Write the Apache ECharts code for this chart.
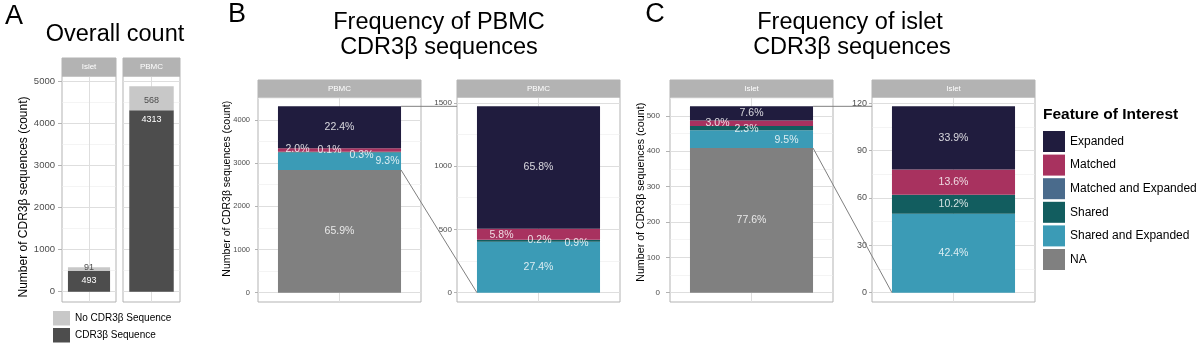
<!DOCTYPE html>
<html><head><meta charset="utf-8">
<script src="https://cdn.jsdelivr.net/npm/echarts@6/dist/echarts.min.js"></script>
<style>html,body{margin:0;padding:0;background:#fff}#c{width:1200px;height:343px}</style>
</head><body><div id="c"></div>
<script>
// ---------------- DATA ----------------
const sites = ['Islet', 'PBMC'];
const cdr3Counts = [493, 4313];
const noCdr3Counts = [91, 568];
const featureNames = ['Expanded', 'Matched', 'Matched and Expanded', 'Shared', 'Shared and Expanded', 'NA'];
const pbmcCounts = [968, 85, 3, 13, 403, 2841];
const isletCounts = [40, 16, 0, 12, 50, 409];
const ticksA = [0, 1000, 2000, 3000, 4000, 5000];
const ticksB1 = [0, 1000, 2000, 3000, 4000];
const ticksB2 = [0, 500, 1000, 1500];
const ticksC1 = [0, 100, 200, 300, 400, 500];
const ticksC2 = [0, 30, 60, 90, 120];
const yTitle = 'Number of CDR3β sequences (count)';

// ---------------- STYLE / LAYOUT ----------------
const FONT = 'Liberation Sans';
const featureColors = {
  'Expanded': '#201c3e', 'Matched': '#a8325f', 'Matched and Expanded': '#4a6b8c',
  'Shared': '#125d5f', 'Shared and Expanded': '#3b9bb6', 'NA': '#808080'
};
const countColors = { 'CDR3β Sequence': '#4d4d4d', 'No CDR3β Sequence': '#c8c8c8' };
const panels = [
  { left: 62,  top: 76, width: 54,  height: 226, strip: 'Islet', stripH: 18, bar: 0.78 },
  { left: 123, top: 76, width: 57,  height: 226, strip: 'PBMC',  stripH: 18, bar: 0.78 },
  { left: 258, top: 97, width: 163, height: 205, strip: 'PBMC',  stripH: 17, bar: 0.755 },
  { left: 457, top: 97, width: 163, height: 205, strip: 'PBMC',  stripH: 17, bar: 0.755 },
  { left: 670, top: 97, width: 163, height: 205, strip: 'Islet', stripH: 17, bar: 0.755 },
  { left: 872, top: 97, width: 163, height: 205, strip: 'Islet', stripH: 17, bar: 0.755 }
];
const labelOffsets = {
  2: { 'Matched': [-42, -1], 'Matched and Expanded': [-10, -2], 'Shared': [22, 3], 'Shared and Expanded': [48, 0] },
  3: { 'Matched': [-37, 1], 'Matched and Expanded': [1, 0], 'Shared': [38, 2] },
  4: { 'Shared and Expanded': [35, 1], 'Shared': [-5, 1], 'Matched': [-34, 0] }
};
const axisStyle = [
  { fs: 9.5, margin: 7, tick: 4 },
  { show: false },
  { fs: 7.5, margin: 8, tick: 3 },
  { fs: 8, margin: 5, tick: 3 },
  { fs: 8, margin: 10, tick: 4 },
  { fs: 9, margin: 5, tick: 3 }
];
const yTitlePos = [
  { x: 23.5, y: 197, fs: 12 },
  { x: 227.3, y: 188.7, fs: 10.5 },
  { x: 641.5, y: 192.3, fs: 10.7 }
];

const sum = a => a.reduce((s, v) => s + v, 0);
const totalA = Math.max(...cdr3Counts.map((v, i) => v + noCdr3Counts[i]));
const pbmcNonNA = pbmcCounts.slice(0, 5);
const isletNonNA = isletCounts.slice(0, 5);
const ranges = [
  [totalA, ticksA], [totalA, ticksA],
  [sum(pbmcCounts), ticksB1], [sum(pbmcNonNA), ticksB2],
  [sum(isletCounts), ticksC1], [sum(isletNonNA), ticksC2]
];

const grids = panels.map(p => ({
  left: p.left, top: p.top, width: p.width, height: p.height,
  show: true, borderColor: '#b3b3b3', borderWidth: 1, backgroundColor: '#fff'
}));
const xAxes = panels.map((p, i) => ({
  type: 'category', gridIndex: i, data: [p.strip],
  axisLine: { show: false },
  axisTick: { show: true, alignWithLabel: true, length: 3, lineStyle: { color: '#b3b3b3' } },
  axisLabel: { show: false }, splitLine: { show: false }
}));
const yAxes = panels.map((p, i) => {
  const [mx, ticks] = ranges[i];
  const st = axisStyle[i];
  const show = st.show !== false;
  const step = ticks[1] - ticks[0];
  return {
    type: 'value', gridIndex: i, min: -0.05 * mx, max: 1.05 * mx,
    minInterval: step, maxInterval: step,
    axisLine: { show: false },
    axisTick: { show: show, length: st.tick || 3, lineStyle: { color: '#b3b3b3' }, customValues: ticks },
    axisLabel: { show: show, customValues: ticks, fontSize: st.fs || 9, color: '#4d4d4d', margin: st.margin || 5,
      fontFamily: FONT, formatter: v => String(Math.round(v)) },
    splitLine: { show: true, lineStyle: { color: '#dedede', width: 1 } },
    minorTick: { show: false, splitNumber: 2 },
    minorSplitLine: { show: true, lineStyle: { color: '#ececec', width: 0.6 } }
  };
});

const series = [];
// center vertical gridlines (behind bars)
panels.forEach((p, i) => {
  series.push({
    type: 'line', xAxisIndex: i, yAxisIndex: i, data: [], z: 1, silent: true,
    markLine: { z: 1, silent: true, symbol: 'none', label: { show: false }, animation: false,
      lineStyle: { color: '#dedede', width: 1, type: 'solid' }, data: [{ xAxis: 0 }] }
  });
});
// panel A
sites.forEach((s, i) => {
  series.push({
    name: 'CDR3β Sequence', type: 'bar', xAxisIndex: i, yAxisIndex: i, stack: 'A' + i, z: 3,
    barWidth: (panels[i].bar * 100) + '%', data: [cdr3Counts[i]],
    itemStyle: { color: countColors['CDR3β Sequence'] },
    label: { show: true, position: 'insideTop', distance: 5, color: '#fff', fontSize: 9, fontFamily: FONT }
  });
  series.push({
    name: 'No CDR3β Sequence', type: 'bar', xAxisIndex: i, yAxisIndex: i, stack: 'A' + i, z: 3,
    barWidth: (panels[i].bar * 100) + '%', data: [noCdr3Counts[i]],
    itemStyle: { color: countColors['No CDR3β Sequence'] },
    label: i === 0
      ? { show: true, position: 'top', distance: -5, color: '#4d4d4d', fontSize: 9, fontFamily: FONT }
      : { show: true, position: 'inside', offset: [0, 2], color: '#4d4d4d', fontSize: 9, fontFamily: FONT }
  });
});
// panels B and C
function addFeatureSeries(gi, counts, includeNA) {
  const tot = sum(includeNA ? counts : counts.slice(0, 5));
  for (let k = featureNames.length - 1; k >= 0; k--) {
    const name = featureNames[k];
    if (name === 'NA' && !includeNA) continue;
    const v = counts[k];
    const off = (labelOffsets[gi] && labelOffsets[gi][name]) || [0, 0];
    series.push({
      name: name, type: 'bar', xAxisIndex: gi, yAxisIndex: gi, stack: 'F' + gi, z: 3,
      barWidth: (panels[gi].bar * 100) + '%', data: [v],
      itemStyle: { color: featureColors[name] },
      label: {
        show: v > 0, position: 'inside', offset: off,
        color: 'rgba(255,255,255,0.82)', fontSize: 10.5, fontFamily: FONT,
        formatter: p => (p.value / tot * 100).toFixed(1) + '%'
      }
    });
  }
}
addFeatureSeries(2, pbmcCounts, true);
addFeatureSeries(3, pbmcCounts, false);
addFeatureSeries(4, isletCounts, true);
addFeatureSeries(5, isletCounts, false);

const option = {
  animation: false,
  backgroundColor: '#fff',
  textStyle: { fontFamily: FONT },
  grid: grids, xAxis: xAxes, yAxis: yAxes, series: series,
  legend: [
    {
      data: ['No CDR3β Sequence', 'CDR3β Sequence'], orient: 'vertical', left: 53, top: 311,
      itemWidth: 17, itemHeight: 14.5, itemGap: 2.5, padding: 0, icon: 'rect', selectedMode: false,
      textStyle: { fontSize: 10, color: '#000', fontFamily: FONT }
    },
    {
      data: featureNames, orient: 'vertical', left: 1043, top: 131,
      itemWidth: 22, itemHeight: 21, itemGap: 2.6, padding: 0, icon: 'rect', selectedMode: false,
      textStyle: { fontSize: 12, color: '#000', fontFamily: FONT }
    }
  ]
};

const chart = echarts.init(document.getElementById('c'), null, { renderer: 'canvas' });
chart.setOption(option);

// ---------------- annotations ----------------
const g = [];
function txt(text, x, y, size, weight, align, rot) {
  g.push({ type: 'text', silent: true, z: 20, x: x, y: y, rotation: rot || 0, style: {
    text: text, x: 0, y: 0, fill: '#000', align: align || 'center', verticalAlign: 'middle',
    font: (weight || 'normal') + ' ' + size + 'px "' + FONT + '"' } });
}
txt('A', 14, 17, 27);
txt('B', 237, 15, 27);
txt('C', 655, 15, 27);
txt('Overall count', 115, 35, 23.5);
txt('Frequency of PBMC', 439, 23, 23.5);
txt('CDR3β sequences', 439, 48, 23.5);
txt('Frequency of islet', 850, 23, 23.5);
txt('CDR3β sequences', 852, 48, 23.5);
txt('Feature of Interest', 1043, 115, 15.5, 'bold', 'left');
yTitlePos.forEach(t => txt(yTitle, t.x, t.y, t.fs, 'normal', 'center', Math.PI / 2));
panels.forEach(p => {
  g.push({ type: 'rect', silent: true, z: 5, shape: { x: p.left, y: p.top - p.stripH, width: p.width, height: p.stripH },
    style: { fill: '#b3b3b3', stroke: '#b3b3b3', lineWidth: 1 } });
  g.push({ type: 'text', silent: true, z: 6, style: { text: p.strip, x: p.left + p.width / 2, y: p.top - p.stripH / 2,
    align: 'center', verticalAlign: 'middle', fill: '#ffffff', font: '8px "' + FONT + '"' } });
});
function connectors(gl, gr, counts) {
  const tot = sum(counts);
  const naTop = counts[5];
  const rTot = sum(counts.slice(0, 5));
  const pl = panels[gl], pr = panels[gr];
  const topL = chart.convertToPixel({ gridIndex: gl }, [0, tot]);
  const naL = chart.convertToPixel({ gridIndex: gl }, [0, naTop]);
  const topR = chart.convertToPixel({ gridIndex: gr }, [0, rTot]);
  const botR = chart.convertToPixel({ gridIndex: gr }, [0, 0]);
  const lRight = topL[0] + pl.width * pl.bar / 2;
  const rLeft = botR[0] - pr.width * pr.bar / 2;
  g.push({ type: 'line', silent: true, z: 10, shape: { x1: lRight, y1: topL[1], x2: pr.left, y2: topR[1] },
    style: { stroke: '#808080', lineWidth: 1 } });
  g.push({ type: 'line', silent: true, z: 10, shape: { x1: lRight, y1: naL[1], x2: rLeft, y2: botR[1] },
    style: { stroke: '#808080', lineWidth: 1 } });
}
connectors(2, 3, pbmcCounts);
connectors(4, 5, isletCounts);
chart.setOption({ graphic: { elements: g } });
</script>
</body></html>
